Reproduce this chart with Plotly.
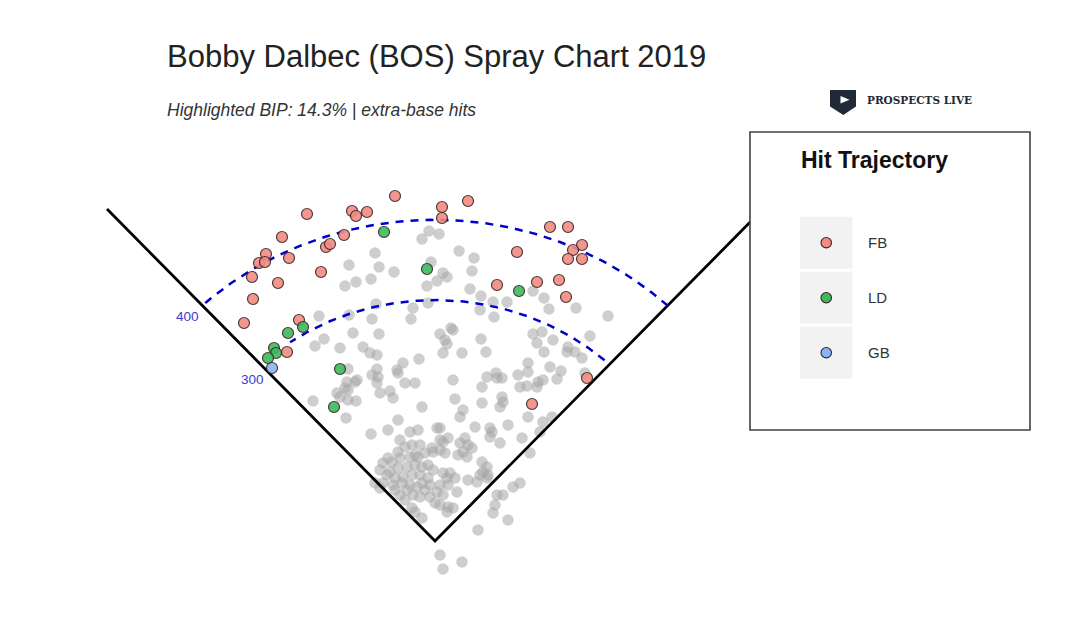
import numpy as np
import plotly.graph_objects as go

W, H = 1082, 618

# ---- data: spray coordinates (chart units, home plate at origin) ----
gray_x = [-6, 4, -13, 24, -60, -86, -56, -41, -4, 8, 2, 12, -79, -64, -90, -8, -59, -22, -116, -86, -63, -24, -7, 16,
          39, 37, 35, 46, 58, 72, 45, 59, 98, 109, 114, 141, 173,
          -82, -56, -111, -120, -95, -72, -65, -58, 5, 10, 12, 8, -16, -32, -87, -58, -63, -57, -58, -38, -37, -88, -80,
          -78, -90, -87, -30, -20, -98, -95, -87, -79, -55, -45, -42, -122, -13, -89, -37,
          18, 46, 98, 107, 118, 155, 133, 132, 140, 147, 102, 109, 51, 27, 93, 93, 83, 61, 52, 62, 67, 115, 126, 122,
          150, 103, 108, 102, 85, 92, 47, 18, 67, 68, 65, 47, 20, 28, 25, 93, 108, 117, 105, 73, 55, 40, 55, 87,
          -64, -47, -25, -17, 2, 5, 65, 57, -35,
          -37, -30, -23, -15, -10, -17, -25, -35, -43, -52, -45, -37, -28, -20, -13, -15, -23, -32, -40, -48, -52, -42,
          -33, -25, -18, -13, -7, -22, -15, -28, -60, -55,
          -3, 5, 8, 13, 5, -2, 10,
          25, 30, 33, 28, 37, 23, 32,
          47, 52, 48, 53, 45, 42, 33, 52,
          8, 15, 20, 12, 13, 5, 2, 8, -5, 0, 5, 13, 18, 12, 22,
          -23, -20, -13,
          62, 68, 60, 58, 78, 85, 95, 73, 43,
          5, 27, 8,
          -47, -40, -35, -30, -10, -5, -7, -2, -55, -20]
gray_y = [310, 307, 302, 290, 288, 276, 274, 269, 279, 268, 260, 264, 259, 262, 255, 255, 237, 233, 225, 226, 222, 222, 238, 213,
          283, 270, 252, 245, 239, 239, 231, 224, 250, 243, 232, 233, 225,
          208, 207, 202, 195, 193, 194, 188, 186, 207, 201, 197, 188, 182, 178, 172, 172, 166, 164, 158, 171, 168, 159, 159,
          161, 153, 151, 158, 158, 148, 144, 141, 140, 148, 150, 143, 140, 134, 123, 121,
          211, 202, 207, 209, 201, 205, 194, 189, 189, 183, 198, 189, 189, 188, 178, 169, 166, 168, 164, 163, 163, 174, 170, 162,
          168, 159, 161, 154, 154, 155, 154, 161, 144, 139, 134, 138, 142, 131, 124, 124, 119, 124, 109, 116, 113, 114, 104, 103,
          107, 111, 109, 111, 113, 113, 98, 109, 101,
          89, 94, 96, 96, 88, 84, 84, 83, 79, 78, 69, 73, 74, 76, 74, 66, 66, 64, 63, 66, 58, 56,
          58, 56, 54, 58, 63, 46, 44, 51, 58, 53,
          93, 91, 99, 103, 101, 89, 88,
          98, 103, 96, 89, 93, 86, 84,
          79, 74, 69, 66, 66, 59, 61, 63,
          68, 68, 63, 63, 56, 56, 49, 46, 44, 38, 36, 34, 33, 29, 49,
          33, 29, 23,
          46, 46, 36, 28, 54, 58, 88, 21, 11,
          -14, -21, -28,
          83, 51, 46, 41, 51, 56, 76, 71, 71, 86]

fb_x = [-40, -128, -83, -79, -68, -153, -169, -176, -170, -146, -183, -157, -182, -191, -114, -109, -105, -91,
        7, 7, -136, -148, 33, 115, 133, 147, 138, 133, 147, 82, 62, 102, 124, 131, 152, 97]
fb_y = [345, 327, 330, 325, 329, 304, 287, 278, 279, 283, 264, 258, 242, 218, 269, 294, 297, 306,
        334, 323, 221, 189, 340, 314, 314, 296, 291, 282, 282, 289, 256, 259, 261, 244, 163, 137]
ld_x = [-51, -8, -147, -132, -161, -159, -167, -95, -101, 84]
ld_y = [309, 272, 208, 214, 193, 188, 183, 172, 134, 250]
gb_x = [-163]
gb_y = [173]

arc_feet = [300, 400]
arc_labels = ["300", "400"]
arc_theta_deg = [(48.6, 124.4), (47.1, 132.3)]
traj_names = ["FB", "LD", "GB"]
traj_colors = ["#f28b82", "#3cba5c", "#8ab4f8"]

# ---- layout constants ----
FT_X, FT_Y = 0.855, 0.803        # chart units per foot
HOME_PX, HOME_PY = 435, 541      # home plate position in the picture
FOUL_EXT = 328

def px(x):
    return x / W

def py(y):
    return 1 - y / H

FONT = "Liberation Sans, Arial, sans-serif"

fig = go.Figure()

fig.add_trace(go.Scatter(
    x=gray_x, y=gray_y, mode="markers", hoverinfo="skip",
    marker=dict(size=11.5, color="rgba(165,165,165,0.55)", line=dict(width=0)),
))

fig.add_trace(go.Scatter(
    x=[-FOUL_EXT, 0, FOUL_EXT], y=[FOUL_EXT * 1.012, 0, FOUL_EXT * 1.012], mode="lines",
    line=dict(color="black", width=2.8), hoverinfo="skip",
))

for r, (t0, t1) in zip(arc_feet, arc_theta_deg):
    th = np.radians(np.linspace(t0, t1, 120))
    fig.add_trace(go.Scatter(
        x=r * FT_X * np.cos(th), y=r * FT_Y * np.sin(th), mode="lines",
        line=dict(color="#0000cc", width=2.5, dash="8px,7px"), hoverinfo="skip",
    ))

for xs, ys, c in zip([fb_x, ld_x, gb_x], [fb_y, ld_y, gb_y], traj_colors):
    fig.add_trace(go.Scatter(
        x=xs, y=ys, mode="markers",
        marker=dict(size=11, color=c, opacity=0.9, line=dict(width=1.2, color="#3a2626")),
    ))

annotations = []
# distance labels
for lab, lx, ly in zip(arc_labels, [252, 187], [379, 316]):
    annotations.append(dict(x=px(lx), y=py(ly), xref="paper", yref="paper", text=lab, showarrow=False,
                            font=dict(family=FONT, size=13.5, color="#3a3ad6"), xanchor="center", yanchor="middle"))

annotations.append(dict(x=px(165), y=py(57), xref="paper", yref="paper", showarrow=False,
                        text="Bobby Dalbec (BOS) Spray Chart 2019", xanchor="left", yanchor="middle",
                        font=dict(family=FONT, size=31, color="#222222")))
annotations.append(dict(x=px(165), y=py(110), xref="paper", yref="paper", showarrow=False,
                        text="<i>Highlighted BIP: 14.3% | extra-base hits</i>", xanchor="left", yanchor="middle",
                        font=dict(family=FONT, size=17.5, color="#333333")))
annotations.append(dict(x=px(865), y=py(100), xref="paper", yref="paper", showarrow=False,
                        text="<b>PROSPECTS LIVE</b>", xanchor="left", yanchor="middle",
                        font=dict(family="DejaVu Serif, serif", size=10.5, color="#1f2a36")))
annotations.append(dict(x=px(799), y=py(160), xref="paper", yref="paper", showarrow=False,
                        text="<b>Hit Trajectory</b>", xanchor="left", yanchor="middle",
                        font=dict(family=FONT, size=23, color="#111111")))

shapes = []
# legend box
shapes.append(dict(type="rect", xref="paper", yref="paper", x0=px(750), x1=px(1030), y0=py(430), y1=py(132),
                   line=dict(color="#404040", width=1.6), fillcolor="white", layer="above"))
row_y = [242.7, 297.7, 352.7]
for name, c, ry in zip(traj_names, traj_colors, row_y):
    shapes.append(dict(type="rect", xref="paper", yref="paper", x0=px(800), x1=px(852.5),
                       y0=py(ry + 26), y1=py(ry - 26), line=dict(width=0), fillcolor="#f2f2f2", layer="above"))
    shapes.append(dict(type="circle", xref="paper", yref="paper", x0=px(821), x1=px(831.5),
                       y0=py(ry + 5.2), y1=py(ry - 5.2), line=dict(color="#3a2626", width=1.1),
                       fillcolor=c, layer="above"))
    annotations.append(dict(x=px(866), y=py(ry), xref="paper", yref="paper", text=name, showarrow=False,
                            xanchor="left", yanchor="middle", font=dict(family=FONT, size=15, color="#333333")))

# logo
def path(pts):
    return "M " + " L ".join(f"{px(a):.5f},{py(b):.5f}" for a, b in pts) + " Z"

shapes.append(dict(type="path", xref="paper", yref="paper",
                   path=path([(830, 90), (856, 90), (856, 106.5), (843.3, 115), (830, 106.5)]),
                   fillcolor="#1f2a36", line=dict(width=0), layer="above"))
shapes.append(dict(type="path", xref="paper", yref="paper",
                   path=path([(840.5, 96), (849.5, 99.8), (840.5, 103.6)]),
                   fillcolor="white", line=dict(width=0), layer="above"))

fig.update_layout(
    width=W, height=H,
    margin=dict(l=0, r=0, t=0, b=0),
    paper_bgcolor="white", plot_bgcolor="white",
    showlegend=False,
    xaxis=dict(range=[-HOME_PX, W - HOME_PX], visible=False, fixedrange=True),
    yaxis=dict(range=[HOME_PY - H, HOME_PY], visible=False, fixedrange=True),
    annotations=annotations,
    shapes=shapes,
)

fig.write_html("out.html", config={"displayModeBar": False},
               post_script="document.body.style.margin='0px';")
